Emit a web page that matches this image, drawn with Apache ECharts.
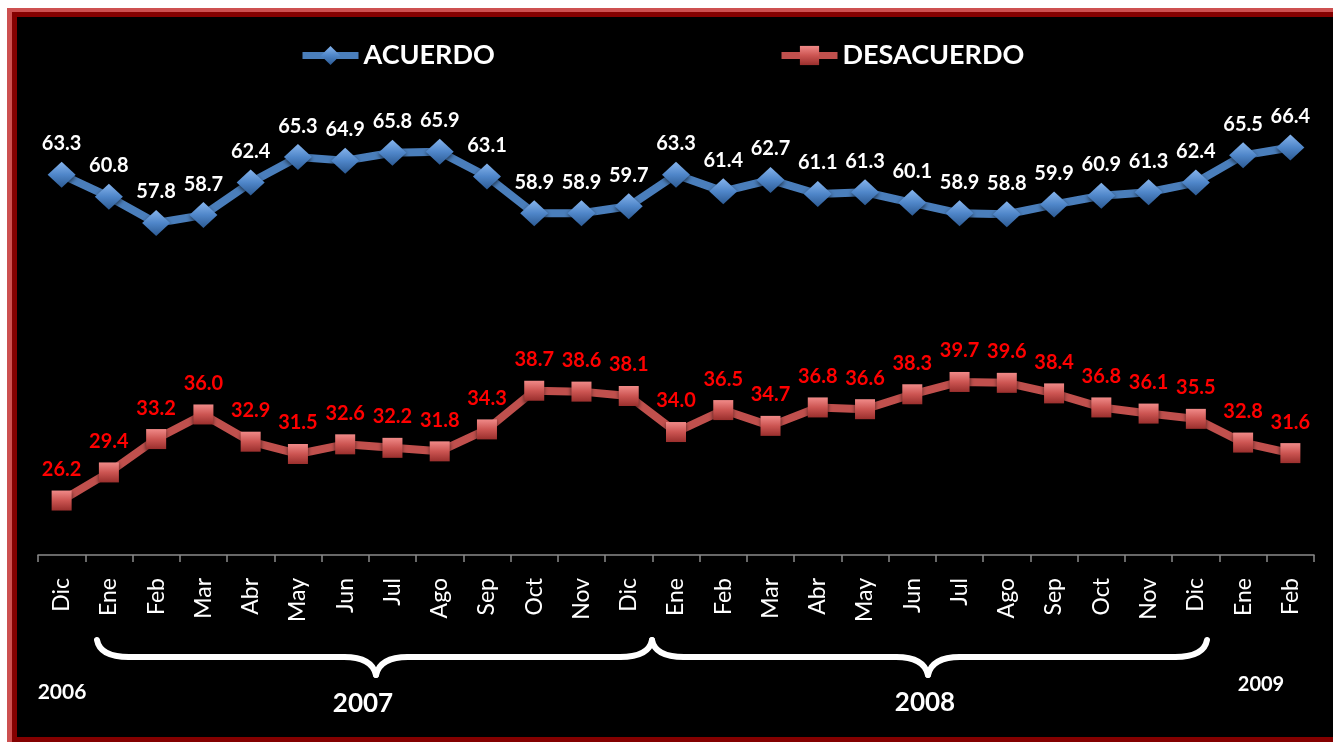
<!DOCTYPE html>
<html>
<head>
<meta charset="utf-8">
<script src="https://cdn.jsdelivr.net/npm/echarts@6/dist/echarts.min.js"></script>
<style>
  html, body { margin: 0; padding: 0; background: #ffffff; width: 1333px; height: 742px; overflow: hidden; }
  #f1 { position: absolute; left: 7px; top: 8px; width: 1326px; height: 734px; background: #cd5050; }
  #f2 { position: absolute; left: 12px; top: 12px; width: 1321px; height: 730px; background: #840000; }
  #f3 { position: absolute; left: 17px; top: 17px; width: 1316px; height: 720px; background: #000000; }
  #chart { position: absolute; left: 0; top: 0; width: 1333px; height: 742px; }
</style>
</head>
<body>
<div id="f1"></div><div id="f2"></div><div id="f3"></div>
<div id="chart"></div>
<script>
const categories = ['Dic','Ene','Feb','Mar','Abr','May','Jun','Jul','Ago','Sep','Oct','Nov','Dic','Ene','Feb','Mar','Abr','May','Jun','Jul','Ago','Sep','Oct','Nov','Dic','Ene','Feb'];
const acuerdo = [63.3,60.8,57.8,58.7,62.4,65.3,64.9,65.8,65.9,63.1,58.9,58.9,59.7,63.3,61.4,62.7,61.1,61.3,60.1,58.9,58.8,59.9,60.9,61.3,62.4,65.5,66.4];
const desacuerdo = [26.2,29.4,33.2,36.0,32.9,31.5,32.6,32.2,31.8,34.3,38.7,38.6,38.1,34.0,36.5,34.7,36.8,36.6,38.3,39.7,39.6,38.4,36.8,36.1,35.5,32.8,31.6];
const seriesNames = ['ACUERDO','DESACUERDO'];
const yearLabels = ['2006','2007','2008','2009'];

const chart = echarts.init(document.getElementById('chart'), null, { renderer: 'canvas' });
const FONT = 'Lato, "Open Sans", sans-serif';

const blueGrad = new echarts.graphic.LinearGradient(0, 0, 0, 1, [
  { offset: 0, color: '#86b4ec' }, { offset: 0.5, color: '#4f86c9' }, { offset: 1, color: '#2c5a93' } ]);
const redGrad = new echarts.graphic.LinearGradient(0, 0, 0, 1, [
  { offset: 0, color: '#f08a88' }, { offset: 0.5, color: '#cc5552' }, { offset: 1, color: '#9a2f2d' } ]);

const braceStyle = { stroke: '#ffffff', lineWidth: 6, lineCap: 'round', fill: null };
function brace(x0, x1, tip, yTop, yMid, yTip) {
  const r = 32;
  return [
    { type: 'bezierCurve', shape: { x1: x0, y1: yTop, x2: x0 + r, y2: yMid, cpx1: x0 + 3, cpy1: yMid }, style: braceStyle },
    { type: 'line', shape: { x1: x0 + r, y1: yMid, x2: tip - r, y2: yMid }, style: braceStyle },
    { type: 'bezierCurve', shape: { x1: tip - r, y1: yMid, x2: tip, y2: yTip, cpx1: tip - 4, cpy1: yMid }, style: braceStyle },
    { type: 'bezierCurve', shape: { x1: tip, y1: yTip, x2: tip + r, y2: yMid, cpx1: tip + 4, cpy1: yMid }, style: braceStyle },
    { type: 'line', shape: { x1: tip + r, y1: yMid, x2: x1 - r, y2: yMid }, style: braceStyle },
    { type: 'bezierCurve', shape: { x1: x1 - r, y1: yMid, x2: x1, y2: yTop, cpx1: x1 - 3, cpy1: yMid }, style: braceStyle }
  ];
}

const legendBase = { top: 42, padding: 0, itemWidth: 56, itemHeight: 24, itemGap: 5,
  lineStyle: { width: 7 },
  textStyle: { color: '#ffffff', fontSize: 27, fontWeight: 'bold', fontFamily: FONT } };

const option = {
  backgroundColor: 'transparent',
  animation: false,
  legend: [
    Object.assign({ data: [seriesNames[0]], left: 299 }, legendBase),
    Object.assign({ data: [seriesNames[1]], left: 778 }, legendBase)
  ],
  grid: { left: 38, right: 19, top: 28, bottom: 187, containLabel: false },
  xAxis: {
    type: 'category',
    data: categories,
    boundaryGap: true,
    axisLine: { lineStyle: { color: '#8a8a8a', width: 1.5 } },
    axisTick: { show: true, length: 7, interval: 0, lineStyle: { color: '#8a8a8a', width: 1.5 } },
    axisLabel: { interval: 0, rotate: 90, margin: 23, color: '#ffffff', fontSize: 23, fontFamily: FONT }
  },
  yAxis: {
    type: 'value', min: 20, max: 80, interval: 10, show: false,
    splitLine: { show: false }
  },
  series: [
    {
      name: seriesNames[0], type: 'line', data: acuerdo,
      symbol: 'diamond', symbolSize: [28, 26],
      lineStyle: { color: '#4a7ebb', width: 8 },
      itemStyle: { color: blueGrad, shadowColor: 'rgba(0,0,0,0.6)', shadowBlur: 4, shadowOffsetY: 2 },
      label: { show: true, position: 'top', distance: 8, color: '#ffffff', fontSize: 20, fontWeight: 'bold', fontFamily: FONT,
        formatter: p => p.value.toFixed(1) },
      z: 3
    },
    {
      name: seriesNames[1], type: 'line', data: desacuerdo,
      symbol: 'rect', symbolSize: 20,
      lineStyle: { color: '#c0504d', width: 8 },
      itemStyle: { color: redGrad, shadowColor: 'rgba(0,0,0,0.6)', shadowBlur: 4, shadowOffsetY: 2 },
      label: { show: true, position: 'top', distance: 11, color: '#ff0000', fontSize: 20, fontWeight: 'bold', fontFamily: FONT,
        formatter: p => p.value.toFixed(1) },
      z: 3
    }
  ],
  graphic: [].concat(
    brace(97, 652, 376, 640, 657, 675),
    brace(652, 1207, 928, 640, 657, 675),
    [
      { type: 'text', x: 62, y: 692, style: { text: yearLabels[0], fill: '#ffffff', font: 'bold 21px ' + FONT, textAlign: 'center', textVerticalAlign: 'middle' } },
      { type: 'text', x: 363, y: 704, style: { text: yearLabels[1], fill: '#ffffff', font: 'bold 26px ' + FONT, textAlign: 'center', textVerticalAlign: 'middle' } },
      { type: 'text', x: 925, y: 703, style: { text: yearLabels[2], fill: '#ffffff', font: 'bold 26px ' + FONT, textAlign: 'center', textVerticalAlign: 'middle' } },
      { type: 'text', x: 1261, y: 685, style: { text: yearLabels[3], fill: '#ffffff', font: 'bold 20px ' + FONT, textAlign: 'center', textVerticalAlign: 'middle' } }
    ]
  )
};
chart.setOption(option);
</script>
</body>
</html>
